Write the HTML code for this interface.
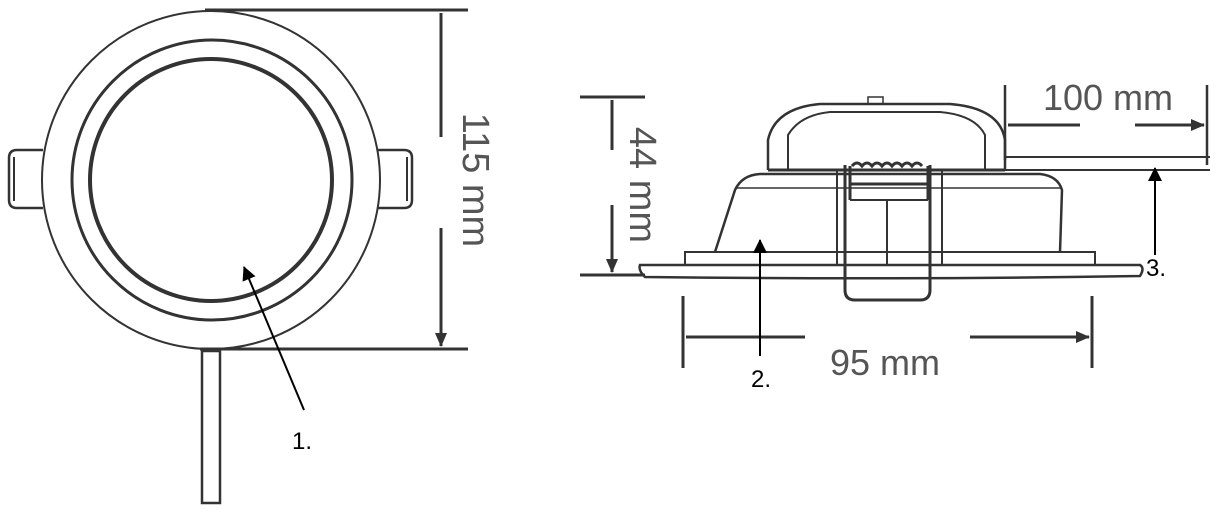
<!DOCTYPE html>
<html><head><style>html,body{margin:0;padding:0;background:#fff}svg{display:block}</style></head>
<body>
<svg width="1220" height="512" viewBox="0 0 1220 512" xmlns="http://www.w3.org/2000/svg">
<defs>
<marker id="ah" markerWidth="14" markerHeight="12" refX="13" refY="6" orient="auto" markerUnits="userSpaceOnUse"><path d="M0,0 L14,6 L0,12 z" fill="#333"/></marker>
<marker id="ab" markerWidth="14" markerHeight="14" refX="13" refY="7" orient="auto" markerUnits="userSpaceOnUse"><path d="M0,0 L14,7 L0,14 z" fill="#000"/></marker>
</defs>
<g fill="none" stroke="#333">
<path d="M43,150 H17 Q9,150 9,158 V200 Q9,208 17,208 H43" stroke-width="2.5"/>
<path d="M14,157 V201" stroke-width="2"/>
<path d="M378,150 H404 Q412,150 412,158 V200 Q412,208 404,208 H378" stroke-width="2.5"/>
<path d="M407,157 V201" stroke-width="2"/>
<circle cx="211" cy="180" r="169" stroke-width="2" fill="#fff"/>
<circle cx="212" cy="180" r="140" stroke-width="3"/>
<circle cx="211" cy="180" r="121" stroke-width="4"/>
<rect x="202" y="351" width="18" height="152" stroke-width="2.5" fill="#fff"/>
<path d="M205,10 H468 M200,349 H468" stroke-width="3"/>
<path d="M441,137 V13 M441,228 V346" stroke-width="3" marker-end="url(#ah)"/>
<path d="M580,97 H645 M580,275 H645" stroke-width="3"/>
<path d="M612,150 V100 M612,205 V272" stroke-width="3" marker-end="url(#ah)"/>
<path d="M640,265 H1140 Q1145,268 1140,276 Q900,280 645,277 Q638,270 640,265 z" stroke-width="2.5"/>
<rect x="685" y="252" width="410" height="13" stroke-width="2"/>
<path d="M715,252 L735,190 Q742,175 760,174 H1040 Q1058,176 1062,190 L1060,252" stroke-width="2.5"/>
<path d="M735,188 H1062" stroke-width="1.5"/>
<path d="M768,170 V140 Q775,108 820,104 H950 Q1000,108 1005,140 V170" stroke-width="2.5"/>
<path d="M788,170 V135 Q800,115 830,112 H940 Q975,115 985,135 V170" stroke-width="2"/>
<path d="M768,170 H1005" stroke-width="3"/>
<rect x="868" y="97" width="15" height="7" stroke-width="1.5"/>
<path d="M837,170 V265 M942,170 V265" stroke-width="2"/>
<path d="M845,165 V290 Q845,300 855,300 H920 Q930,300 930,290 V165" stroke-width="3"/>
<path d="M852,166 q5,-6 10,0 q5,-6 10,0 q5,-6 10,0 q5,-6 10,0 q5,-6 10,0 q5,-6 10,0 q5,-6 10,0" stroke-width="3"/>
<path d="M850,166 V200 M928,166 V200 M850,184 H928" stroke-width="3"/>
<path d="M850,200 H928" stroke-width="2"/>
<path d="M887,200 V265" stroke-width="2"/>
<path d="M1005,85 V160 M1207,85 V165" stroke-width="2.5"/>
<path d="M1005,157 H1210 M1005,170 H1210" stroke-width="2"/>
<path d="M1080,125 H1008 M1135,125 H1204" stroke-width="3" marker-end="url(#ah)"/>
<path d="M683,296 V368 M1092,296 V368" stroke-width="3"/>
<path d="M805,337 H686 M970,337 H1089" stroke-width="3" marker-end="url(#ah)"/>
</g>
<g stroke="#000" stroke-width="2">
<path d="M304,410 L244,267" marker-end="url(#ab)"/>
<path d="M760,356 V240" marker-end="url(#ab)"/>
<path d="M1155,255 V168" marker-end="url(#ab)"/>
</g>
<g font-family="Liberation Sans, sans-serif" fill="#555">
<text x="473" y="180" font-size="38" text-anchor="middle" transform="rotate(90 473 180)" dominant-baseline="middle">115 mm</text>
<text x="640" y="185" font-size="38" text-anchor="middle" transform="rotate(90 640 185)" dominant-baseline="middle">44 mm</text>
<text x="1108" y="110" font-size="36" text-anchor="middle">100 mm</text>
<text x="885" y="375" font-size="36" text-anchor="middle">95 mm</text>
</g>
<g font-family="Liberation Sans, sans-serif" fill="#000" font-size="24">
<text x="292" y="449">1.</text>
<text x="751" y="387">2.</text>
<text x="1146" y="276">3.</text>
</g>
</svg>
</body></html>
